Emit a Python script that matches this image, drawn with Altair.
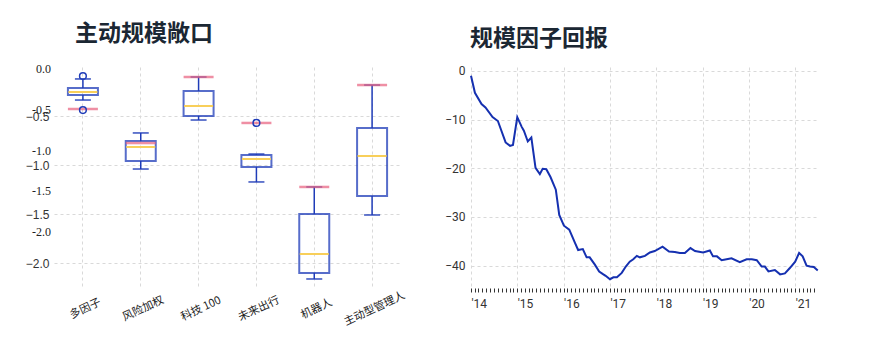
import altair as alt
import pandas as pd

# ---------------- left panel data: box plot ----------------
categories = ["多因子", "风险加权", "科技 100", "未来出行", "机器人", "主动型管理人"]
whisker_hi = [-0.122, -0.673, -0.102, -0.888, -1.224, -0.184]
q3 = [-0.214, -0.755, -0.245, -0.898, -1.500, -0.622]
median = [-0.255, -0.816, -0.398, -0.939, -1.908, -0.908]
q1 = [-0.286, -0.959, -0.500, -1.020, -2.102, -1.316]
whisker_lo = [-0.337, -1.041, -0.541, -1.173, -2.163, -1.510]
current = [-0.429, -0.776, -0.102, -0.571, -1.224, -0.184]
outlier_cat = ["多因子", "多因子", "未来出行"]
outlier_val = [-0.092, -0.439, -0.571]
sans_ticks = [-0.5, -1.0, -1.5, -2.0]
serif_ticks = [0.0, -0.5, -1.0, -1.5, -2.0]
serif_labels = ["0.0", "-0.5", "-1.0", "-1.5", "-2.0"]

# ---------------- right panel data: line ----------------
dates = [
    "2014-01-01", "2014-02-01", "2014-03-25", "2014-04-25", "2014-06-20", "2014-08-01",
    "2014-10-01", "2014-11-05", "2014-11-28", "2015-01-01", "2015-02-05", "2015-02-22",
    "2015-03-25", "2015-04-22", "2015-05-25", "2015-06-28", "2015-07-20", "2015-08-18",
    "2015-09-20", "2015-11-01", "2015-11-28", "2016-01-04", "2016-02-15", "2016-03-04",
    "2016-04-01", "2016-04-25", "2016-06-01", "2016-07-01", "2016-07-25", "2016-09-04",
    "2016-10-08", "2016-11-10", "2016-11-28", "2017-01-01", "2017-01-28", "2017-02-25",
    "2017-04-04", "2017-05-06", "2017-06-06", "2017-07-04", "2017-08-01", "2017-08-25",
    "2017-10-04", "2017-11-12", "2017-12-20", "2018-02-20", "2018-04-12", "2018-05-28",
    "2018-07-06", "2018-08-15", "2018-09-28", "2018-11-03", "2019-01-06", "2019-02-28",
    "2019-03-25", "2019-04-25", "2019-06-01", "2019-07-10", "2019-08-18", "2019-10-22",
    "2019-12-15", "2020-01-25", "2020-03-04", "2020-04-12", "2020-05-07", "2020-06-04",
    "2020-07-25", "2020-09-04", "2020-10-12", "2020-11-20", "2021-01-01", "2021-02-01",
    "2021-03-01", "2021-04-01", "2021-04-28", "2021-05-28", "2021-06-28",
]
returns = [
    -1.0, -4.5, -6.8, -7.5, -9.5, -10.3,
    -14.7, -15.4, -15.2, -9.5, -11.5, -12.3,
    -14.5, -13.7, -19.9, -21.2, -20.1, -20.2,
    -21.8, -24.4, -29.6, -31.8, -32.6, -33.7,
    -35.4, -36.8, -36.6, -38.3, -38.3, -39.8,
    -41.2, -41.8, -42.1, -42.8, -42.4, -42.4,
    -41.5, -40.2, -39.2, -38.7, -38.0, -38.3,
    -38.0, -37.3, -37.0, -36.1, -37.1, -37.2,
    -37.4, -37.4, -36.4, -37.0, -37.3, -36.9,
    -38.1, -38.1, -38.9, -38.7, -38.5, -39.3,
    -38.7, -38.7, -38.9, -40.2, -40.2, -41.2,
    -40.9, -41.8, -41.6, -40.5, -39.2, -37.4,
    -38.1, -40.0, -40.2, -40.3, -41.0,
]
right_y_ticks = [0, -10, -20, -30, -40]

BLUE = "#1f3cb8"
LINE_BLUE = "#1530b0"
YELLOW = "#f8cf5a"
RED = "#e8607d"
GRID = "#d9d9d9"
TITLE_COLOR = "#1b2733"
CJK = "Noto Sans CJK SC"

box_df = pd.DataFrame({"cat": categories, "hi": whisker_hi, "q3": q3, "med": median,
                       "q1": q1, "lo": whisker_lo, "cur": current})
out_df = pd.DataFrame({"cat": outlier_cat, "v": outlier_val})
serif_df = pd.DataFrame({"v": serif_ticks, "lab": serif_labels})
line_df = pd.DataFrame({"date": dates, "ret": returns})

x_enc = alt.X(
    "cat:N", sort=categories,
    scale=alt.Scale(paddingInner=0, paddingOuter=0),
    axis=alt.Axis(title=None, grid=True, gridDash=[3, 3], gridColor=GRID, domain=False,
                  ticks=False, labelAngle=335, labelAlign="center", labelBaseline="top",
                  labelPadding=15, labelFont=CJK, labelFontSize=11, labelColor="#222"),
)
yscale = alt.Scale(domain=[-2.255, 0], nice=False, zero=False)
yaxis = alt.Axis(values=sans_ticks, format=".1f", title=None, grid=True, gridDash=[3, 3],
                 gridColor=GRID, domain=False, ticks=False, labelPadding=5,
                 labelFont="Liberation Sans", labelFontSize=12, labelColor="#333")

base = alt.Chart(box_df).encode(x=x_enc)
upper = base.mark_rule(color=BLUE, strokeWidth=1.5).encode(
    y=alt.Y("hi:Q", scale=yscale, axis=yaxis), y2="q3:Q")
lower = base.mark_rule(color=BLUE, strokeWidth=1.5).encode(y="q1:Q", y2="lo:Q")
cap_hi = base.mark_tick(orient="horizontal", size=16, thickness=1.5, color=BLUE, opacity=0.9).encode(y="hi:Q")
cap_lo = base.mark_tick(orient="horizontal", size=16, thickness=1.5, color=BLUE, opacity=0.9).encode(y="lo:Q")
box = base.mark_bar(width=30, fill="white", fillOpacity=0, stroke=BLUE, strokeWidth=2,
                    strokeOpacity=0.75).encode(y="q3:Q", y2="q1:Q")
med = base.mark_tick(orient="horizontal", size=29, thickness=2, color=YELLOW, opacity=1).encode(y="med:Q")
cur = base.mark_tick(orient="horizontal", size=30, thickness=2.5, color=RED, opacity=0.7).encode(y="cur:Q")
outs = alt.Chart(out_df).mark_point(shape="circle", size=45, filled=False, color=BLUE,
                                    strokeWidth=1.5, opacity=1).encode(
    x=alt.X("cat:N", sort=categories), y="v:Q")

inner = alt.layer(upper, lower, cap_hi, cap_lo, box, med, cur, outs)

serif_text = alt.Chart(serif_df).mark_text(
    align="right", baseline="middle", font="Liberation Serif", fontSize=12, color="#222"
).encode(
    x=alt.value(-3),
    y=alt.Y("v:Q", scale=alt.Scale(domain=[-2.687, 0.025], nice=False, zero=False), axis=None),
    text="lab:N",
)

left = alt.layer(inner, serif_text).resolve_scale(y="independent").properties(
    width=347, height=221,
    title=alt.TitleParams("主动规模敞口", anchor="start", frame="group", dx=21, offset=17,
                          font=CJK, fontSize=23, fontWeight="bold", color=TITLE_COLOR),
)

right = alt.Chart(line_df).mark_line(color=LINE_BLUE, strokeWidth=2).encode(
    x=alt.X(
        "date:T",
        scale=alt.Scale(type="utc", domain=[alt.DateTime(year=2014, month=1, date=1, utc=True),
                                            alt.DateTime(year=2021, month=6, date=30, utc=True)]),
        axis=alt.Axis(
            title=None, tickCount={"interval": "month", "step": 1},
            labelExpr="utcmonth(datum.value) == 0 ? \"'\" + utcFormat(datum.value, '%y') : ''",
            grid=True, gridDash=[3, 3], gridColor=GRID,
            gridOpacity={"condition": {"test": "utcmonth(datum.value) !== 0", "value": 0}, "value": 1},
            domain=False, ticks=True, tickSize=4, tickColor="#333", tickWidth=1,
            labelAlign="left", labelPadding=6, labelFont="Roboto", labelFontSize=12,
            labelColor="#333", labelOverlap=False, labelFlush=False, labelBound=False,
        ),
    ),
    y=alt.Y("ret:Q", scale=alt.Scale(domain=[-44.6, 0.8], nice=False, zero=False),
            axis=alt.Axis(values=right_y_ticks, title=None, grid=True, gridDash=[3, 3],
                          gridColor=GRID, domain=False, ticks=False, labelPadding=6,
                          labelFont="Roboto", labelFontSize=12, labelColor="#333")),
).properties(
    width=347, height=221,
    title=alt.TitleParams("规模因子回报", anchor="start", frame="group", dx=-1, offset=14,
                          font=CJK, fontSize=23, fontWeight="bold", color=TITLE_COLOR),
)

chart = alt.hconcat(left, right, spacing=70, bounds="flush").configure_view(
    stroke=None
).properties(
    padding={"left": 25, "top": 23, "right": 5, "bottom": 5},
    background="white",
)

chart.save("out.html", embed_options={"renderer": "svg", "actions": False})
